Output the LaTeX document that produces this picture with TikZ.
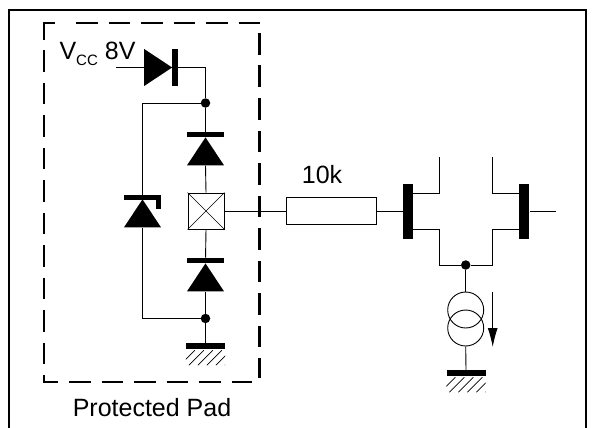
\documentclass[tikz,border=0pt]{standalone}
\usepackage{fontspec}
\setmainfont{Liberation Sans}
\usetikzlibrary{positioning,arrows.meta,shapes.geometric}
\tikzset{
	wire/.style={draw, line width=0.9pt},
	label/.style={inner sep=0pt, font=\fontsize{25}{30}\selectfont},
	dashline/.style={draw, line width=2.4pt, dash pattern=on 21.7pt off 10.8pt},
	corner/.style={draw, line width=2.4pt},
	dot/.style={circle, fill=black, inner sep=0pt, minimum size=9.5pt},
	bar/.style={rectangle, fill=black, inner sep=0pt},
	hbar/.style={bar, minimum width=37pt, minimum height=5.5pt},
	vbar/.style={bar, minimum width=5.5pt, minimum height=37pt},
	gatebar/.style={bar, minimum width=10pt, minimum height=55pt},
	gndbar/.style={bar, minimum width=39pt, minimum height=6pt},
	tri/.style={
		isosceles triangle, isosceles triangle apex angle=66,
		isosceles triangle stretches, fill=black, inner sep=0pt,
		minimum width=37pt, minimum height=28pt,
	},
	box/.style={rectangle, draw, line width=0.9pt, fill=white, inner sep=0pt},
	src/.style={circle, draw, line width=0.9pt, inner sep=0pt, minimum size=36pt},
}
\newcommand{\hatchunder}[1]{
	\begin{scope}
		\clip ([yshift=-1pt]#1.south west) rectangle ([yshift=-16pt]#1.south east);
		\foreach \i in {-6,3,12,21,30,39}
			\draw [line width=0.7pt] ([xshift=\i pt, yshift=-16pt]#1.south west) -- ++(15,-15);
	\end{scope}
}
\begin{document}
\begin{tikzpicture}[x=1pt, y=-1pt]
	\useasboundingbox (0,0) rectangle (594,428);
	% frame and dashed outline
	\clip (0,0) rectangle (594,428);
	\coordinate (fbl) at (9,430);
	\coordinate (ftl) at (9,10);
	\coordinate (ftr) at (586,10);
	\coordinate (fbr) at (586,430);
	\draw [line width=2.2pt] (fbl) -- (ftl) -- (ftr) -- (fbr);
	\path [corner] (44,40) -- (44,23) -- (55,23);
	\path [corner] (44,375) -- (44,382) -- (58,382);
	\path [dashline] (76,23) -- (260,23);
	\path [dashline] (44,50) -- (44,365);
	\path [dashline] (69,382) -- (252,382);
	\path [dashline] (259.5,33) -- (259.5,378);
	
	\node [label] (vcc) at (97.5,54) {V\raisebox{-5.5pt}{\fontsize{15}{15}\selectfont CC} 8V};
	\node [label] (prot) at (152,408) {Protected Pad};
	\node [label] (tenk) at (322,175) {10k};
	
	% pad column
	\coordinate (vin) at (116,67.5);
	\node [tri, shape border rotate=0, anchor=apex] (dtop) at (172.5,67.5) {};
	\node [vbar, right=-0.5pt of dtop.apex] (dtopbar) {};
	\node [dot] (jtop) at (205.5,103) {};
	\node [hbar] (dubar) at (205.5,134.5) {};
	\node [tri, shape border rotate=90, anchor=apex] (du) at (205.5,137) {};
	\node [box, minimum size=36pt] (pad) at (206,211) {};
	\draw [line width=0.7pt] (pad.north west) -- (pad.south east) (pad.north east) -- (pad.south west);
	\node [hbar] (dlbar) at (205.5,260.5) {};
	\node [tri, shape border rotate=90, anchor=apex] (dl) at (205.5,263) {};
	\node [dot] (jbot) at (205.5,318.5) {};
	\node [gndbar] (gnda) at (205.5,346) {};
	\hatchunder{gnda}
	
	% zener
	\node [hbar] (zbar) at (142.5,197.5) {};
	\node [bar, minimum width=5pt, minimum height=14pt, anchor=north east] (zhook) at (zbar.north east) {};
	\node [tri, shape border rotate=90, anchor=apex] (z) at (142.5,199) {};
	
	% input pair
	\node [box, minimum width=90.5pt, minimum height=27.5pt] (res) at (331.5,211) {};
	\node [gatebar] (gl) at (407.7,211) {};
	\node [gatebar] (gr) at (524.3,211) {};
	\coordinate (dl1) at (439,157);
	\coordinate (dr1) at (492.7,157);
	\coordinate (gout) at (556,211);
	\node [dot] (jpair) at (465.7,265) {};
	\node [src] (s1) at (465.7,310) {};
	\node [src] (s2) at (465.7,328) {};
	\node [gndbar] (gndb) at (466,373) {};
	\hatchunder{gndb}
	
	\path [wire] (vin) -- (dtop.west |- vin);
	\path [wire] (dtopbar.east) -| (jtop);
	\path [wire] (jtop) -- (dubar);
	\path [wire] (du.south) -- (pad.north);
	\path [wire] (pad.south) -- (dlbar);
	\path [wire] (dl.south) -- (jbot);
	\path [wire] (jbot) -- (gnda);
	\path [wire] (jtop) -| (zbar);
	\path [wire] (z.south) |- (jbot);
	\path [wire] (pad.east) -- (res.west);
	\path [wire] (res.east) -- (gl.west);
	\path [wire] (gl.east |- 0,193) -| (dl1);
	\path [wire] (gl.east |- 0,229) -| (jpair.west -| dl1) -- (jpair);
	\path [wire] (gr.west |- 0,193) -| (dr1);
	\path [wire] (gr.west |- 0,229) -| (jpair.east -| dr1) -- (jpair);
	\path [wire] (gr.east) -- (gout);
	\path [wire] (jpair) -- (s1.north);
	\path [wire] (s2.south) -- (gndb.north);
	
	% current arrow
	\coordinate (ia) at (492.7,292);
	\coordinate (ib) at (492.7,347);
	\draw [line width=0.9pt, -{Latex[length=19pt, width=10pt]}] (ia) -- (ib);
\end{tikzpicture}
\end{document}
